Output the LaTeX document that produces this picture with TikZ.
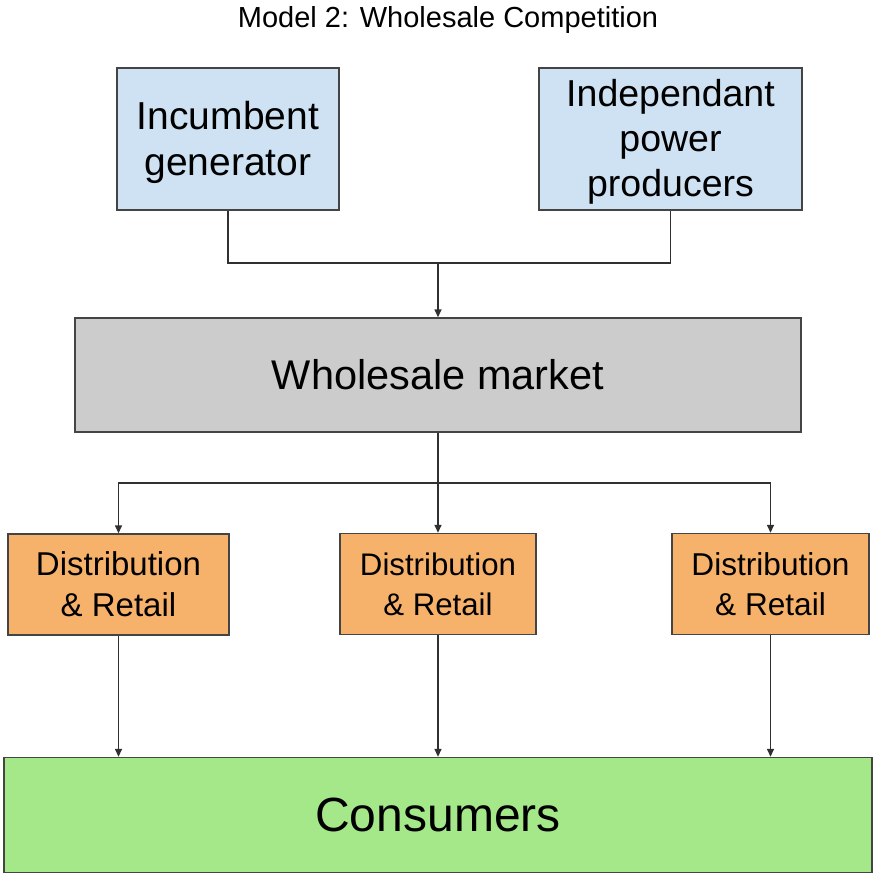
\documentclass[tikz,border=0pt]{standalone}
\usepackage{fontspec}
\setmainfont{Liberation Sans}
\usetikzlibrary{arrows.meta}
\definecolor{bluefill}{HTML}{CFE2F3}
\definecolor{grayfill}{HTML}{CCCCCC}
\definecolor{orangefill}{HTML}{F6B26B}
\definecolor{greenfill}{HTML}{A4E88A}
\definecolor{edge}{HTML}{444444}
\tikzset{
  box/.style={draw=edge, line width=1.4pt, inner sep=0pt, align=center, anchor=center},
  conn/.style={draw=edge!70!black, line width=1.4pt},
  arr/.style={conn, -{Triangle[length=8pt,width=7pt]}},
}
\begin{document}
\begin{tikzpicture}[x=1pt,y=-1pt]
\useasboundingbox (0,0) rectangle (874,873);
\node (title) at (448,20) {\fontsize{29}{34}\selectfont Model 2: Wholesale Competition};
\node[box, fill=bluefill, minimum width=222pt, minimum height=142pt, font=\fontsize{39}{46}\selectfont] (inc) at (228,139) {};
\node[align=center, font=\fontsize{39}{46}\selectfont] (inct) at (228,142) {Incumbent\\generator};
\node[box, fill=bluefill, minimum width=263pt, minimum height=142pt] (ipp) at (670.5,139) {};
\node[align=center, font=\fontsize{37.5}{45}\selectfont] (ippt) at (670.5,142) {Independant\\power\\producers};
\node[box, fill=grayfill, minimum width=726pt, minimum height=114pt, font=\fontsize{41.5}{48}\selectfont] (wm) at (438,375) {Wholesale market};
\node[box, fill=orangefill, minimum width=221pt, minimum height=101pt, font=\fontsize{33}{41}\selectfont] (d1) at (118.5,584.5) {Distribution\\\& Retail};
\node[box, fill=orangefill, minimum width=196pt, minimum height=101pt, font=\fontsize{31.2}{40}\selectfont] (d2) at (438,584) {Distribution\\\& Retail};
\node[box, fill=orangefill, minimum width=197pt, minimum height=101pt, font=\fontsize{31.6}{40}\selectfont] (d3) at (770.5,584) {Distribution\\\& Retail};
\node[box, fill=greenfill, minimum width=868pt, minimum height=115pt, font=\fontsize{48}{55}\selectfont] (con) at (438,815) {Consumers};
\coordinate (j1) at (438,263);
\coordinate (j2) at (438,483);
\draw[conn] (inc.south) |- (j1) -| (ipp.south);
\draw[arr] (j1) -- (j1 |- wm.north);
\draw[conn] (wm.south) -- (j2);
\draw[arr] (j2) -| (d1.north);
\draw[arr] (j2) -- (d2.north);
\draw[arr] (j2) -| (d3.north);
\draw[arr] (d1.south) -- (d1.south |- con.north);
\draw[arr] (d2.south) -- (d2.south |- con.north);
\draw[arr] (d3.south) -- (d3.south |- con.north);
\end{tikzpicture}
\end{document}
